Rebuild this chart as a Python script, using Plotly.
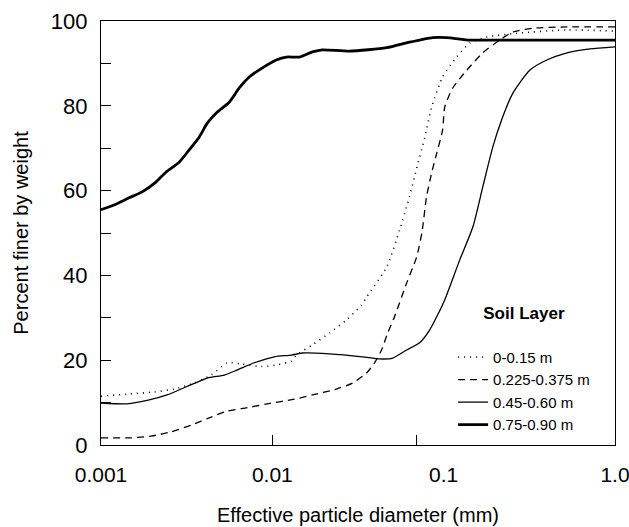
import plotly.graph_objects as go

# Soil layer 0-0.15 m (dotted)
d1 = [0.001, 0.00142, 0.00204, 0.00267, 0.0035, 0.0044, 0.00546, 0.00661, 0.00863, 0.01072,
      0.01291, 0.0138, 0.01714, 0.02153, 0.0271, 0.0331, 0.0355, 0.0465, 0.0553, 0.0631,
      0.0692, 0.0776, 0.0851, 0.0986, 0.119, 0.142, 0.178, 0.267, 0.525, 1.0]
p1 = [11.5, 12.0, 12.5, 13.2, 14.6, 16.5, 19.4, 19.1, 18.5, 18.9,
      19.8, 21.2, 23.6, 26.4, 29.5, 33.0, 34.9, 42.0, 50.7, 58.5,
      64.9, 72.6, 79.7, 86.8, 91.5, 94.8, 96.2, 97.1, 97.9, 97.6]

# Soil layer 0.225-0.375 m (dashed)
d2 = [0.001, 0.0015, 0.00196, 0.00257, 0.00336, 0.0044, 0.00546, 0.00715, 0.00933, 0.01346,
      0.01714, 0.02366, 0.02938, 0.0355, 0.0394, 0.0434, 0.0471, 0.0516, 0.0608, 0.0695,
      0.0748, 0.0794, 0.0851, 0.0912, 0.0986, 0.1014, 0.113, 0.1365, 0.169,
      0.212, 0.2535, 0.331, 0.525, 1.0]
p2 = [1.7, 1.7, 2.1, 3.1, 4.7, 6.6, 8.0, 8.8, 9.7, 10.8,
      11.8, 13.2, 14.6, 17.0, 19.3, 22.4, 26.4, 30.2, 38.2, 44.3,
      50.3, 58.5, 64.2, 68.9, 74.3, 79.7, 84.2, 88.4, 92.5,
      95.5, 97.4, 98.3, 98.6, 98.6]

# Soil layer 0.45-0.60 m (thin solid)
d3 = [0.001, 0.00142, 0.00186, 0.00243, 0.00318, 0.00417, 0.00525, 0.00624, 0.00785, 0.01028,
      0.01291, 0.01496, 0.02153, 0.0336, 0.0423, 0.0504, 0.0608, 0.0724, 0.0828, 0.0923,
      0.1014, 0.124, 0.148, 0.169, 0.1936, 0.218, 0.2535, 0.318, 0.4, 0.525, 0.714, 1.0]
p3 = [9.9, 9.7, 10.5, 11.8, 13.8, 15.8, 16.5, 17.7, 19.4, 20.8,
      21.2, 21.7, 21.5, 20.8, 20.3, 20.5, 22.4, 24.1, 27.1, 30.7,
      34.2, 43.6, 51.4, 60.8, 70.3, 76.7, 83.0, 88.4, 90.8, 92.5, 93.4, 93.9]

# Soil layer 0.75-0.90 m (thick solid)
d4 = [0.001, 0.00119, 0.00146, 0.00174, 0.00209, 0.0024, 0.00286, 0.00327, 0.00374, 0.00417,
      0.00471, 0.00562, 0.00641, 0.00733, 0.00871, 0.01054, 0.01208, 0.01439, 0.01714, 0.0196,
      0.0282, 0.0465, 0.0631, 0.0863, 0.1042, 0.1419, 0.186, 1.0]
p4 = [55.5, 56.6, 58.3, 59.7, 62.0, 64.4, 66.7, 69.6, 72.6, 75.9,
      78.3, 80.9, 84.2, 86.8, 88.9, 90.8, 91.5, 91.5, 92.7, 93.2,
      92.9, 93.7, 95.0, 96.1, 96.1, 95.5, 95.5, 95.5]

names = ["0-0.15 m", "0.225-0.375 m", "0.45-0.60 m", "0.75-0.90 m"]

x_tickvals = [0.001, 0.01, 0.1, 1.0]
x_ticktext = ["0.001", "0.01", "0.1", "1.0"]
x_minor_ticks = [0.01001, 0.069]
y_tickvals = [0, 20, 40, 60, 80, 100]

FONT = "Liberation Sans, Arial, Helvetica, sans-serif"

fig = go.Figure()
styles = [
    dict(color="black", width=1.6, dash="1px,5px"),
    dict(color="black", width=1.3, dash="7px,5px"),
    dict(color="black", width=1.3),
    dict(color="black", width=2.8),
]
for d, p, n, st in zip([d1, d2, d3, d4], [p1, p2, p3, p4], names, styles):
    fig.add_trace(go.Scatter(x=d, y=p, mode="lines", name=n,
                             line=dict(shape="spline", smoothing=0.6, **st)))

fig.update_layout(
    width=629, height=527,
    paper_bgcolor="white", plot_bgcolor="white",
    margin=dict(l=101, r=14, t=21, b=82),
    font=dict(family=FONT, color="black"),
    showlegend=True,
    legend=dict(
        x=0.685, y=0.008, xanchor="left", yanchor="bottom",
        bgcolor="rgba(0,0,0,0)",
        font=dict(size=15, family=FONT),
        title=dict(text="<b>Soil Layer</b><br> ", side="top center",
                   font=dict(size=17, family=FONT)),
        tracegroupgap=0,
    ),
    xaxis=dict(
        type="log", range=[-3, 0], automargin=False,
        tickvals=x_tickvals, ticktext=x_ticktext,
        ticks="", showgrid=False, zeroline=False,
        showline=True, linecolor="black", linewidth=1.3, mirror=True,
        tickfont=dict(size=21), ticklabeloverflow="allow",
        ticklabelstandoff=11,
        minor=dict(tickmode="array", tickvals=x_minor_ticks, ticks="inside",
                   ticklen=10, tickcolor="black", tickwidth=1.2, showgrid=False),
        title=dict(text="Effective particle diameter (mm)", font=dict(size=20), standoff=22),
    ),
    yaxis=dict(
        range=[0, 100], tickvals=y_tickvals, automargin=False,
        ticks="inside", ticklen=10, tickcolor="black", tickwidth=1.2,
        showgrid=False, zeroline=False,
        showline=True, linecolor="black", linewidth=1.3, mirror=True,
        tickfont=dict(size=22), ticklabeloverflow="allow",
        ticklabelstandoff=8,
        minor=dict(dtick=10, ticks="inside", ticklen=10, tickcolor="black",
                   tickwidth=1.2, showgrid=False),
        title=dict(text="Percent finer by weight", font=dict(size=20), standoff=16),
    ),
)

fig.write_html("out.html", config={"displayModeBar": False},
               post_script="document.body.style.margin='0px';document.body.style.overflow='hidden';")
